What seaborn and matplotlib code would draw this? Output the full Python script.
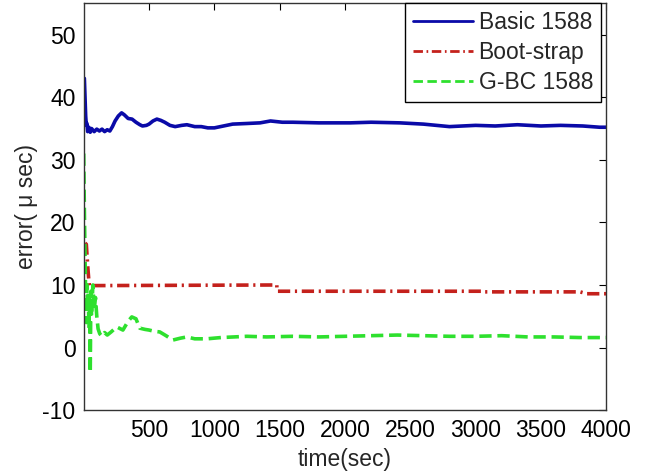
import matplotlib
matplotlib.use("Agg")
import matplotlib.pyplot as plt
import seaborn as sns
import pandas as pd

# ---- data ----
basic_t = [0, 5, 10, 15, 20, 25, 30, 40, 50, 60, 80, 100, 120, 140, 160, 180, 200,
           220, 240, 265, 290, 310, 340, 370, 400, 430, 450, 480, 500, 530, 560,
           590, 620, 660, 700, 750, 790, 850, 900, 950, 1000, 1070, 1140, 1250,
           1350, 1430, 1520, 1600, 1800, 2040, 2200, 2420, 2600, 2800, 3000, 3150,
           3320, 3500, 3650, 3820, 3950, 4000]
basic_v = [43, 43, 40, 37, 35.5, 35.8, 34.5, 35.2, 34.4, 35, 34.5, 34.9, 34.6, 34.9,
           34.5, 34.8, 34.6, 35.3, 36.2, 37, 37.5, 37.2, 36.6, 36.5, 36, 35.6, 35.4,
           35.5, 35.7, 36.2, 36.5, 36.3, 36, 35.5, 35.3, 35.5, 35.6, 35.3, 35.3,
           35.1, 35.1, 35.4, 35.7, 35.8, 35.9, 36.2, 36, 36, 35.9, 35.9, 36.0, 35.9,
           35.7, 35.3, 35.5, 35.4, 35.6, 35.4, 35.5, 35.4, 35.2, 35.2]

boot_t = [10, 20, 30, 40, 45, 60, 1478, 1480, 3060, 3062, 3800, 3850, 4000]
boot_v = [16.7, 16.5, 13.2, 10.5, 9.8, 9.9, 10.0, 9.0, 9.0, 8.9, 8.9, 8.6, 8.6]

gbc_t = [0, 5, 10, 15, 20, 25, 30, 35, 40, 45, 50, 55, 60, 70, 80, 90, 100, 110,
         123, 140, 160, 180, 210, 253, 300, 340, 368, 400, 429, 470, 500, 540, 582,
         630, 682, 740, 789, 850, 943, 1050, 1150, 1249, 1400, 1600, 1800, 2000,
         2200, 2400, 2600, 2800, 3000, 3200, 3400, 3600, 3800, 4000]
gbc_v = [31, 22, 15, 8, 4, 10, 6, 9, 3, 8, -4, 9, 5, 10, 6, 8, 5, 3, 2.2, 1.8, 2.4,
         2.0, 2.5, 3.3, 2.8, 4.2, 4.9, 4.6, 3.1, 2.9, 2.8, 2.6, 2.5, 1.9, 1.2, 1.5,
         1.7, 1.4, 1.4, 1.6, 1.7, 1.8, 1.7, 1.8, 1.7, 1.8, 1.9, 2.0, 1.9, 1.8, 1.8,
         1.9, 1.7, 1.7, 1.6, 1.6]

series_names = ["Basic 1588", "Boot-strap", "G-BC 1588"]
x_ticks = [500, 1000, 1500, 2000, 2500, 3000, 3500, 4000]
y_ticks = [-10, 0, 10, 20, 30, 40, 50]

sns.set_style("white")
plt.rcParams["font.family"] = ["Liberation Sans", "DejaVu Sans"]
plt.rcParams["axes.unicode_minus"] = False

FS = 16.5

fig = plt.figure(figsize=(6.54, 4.72), dpi=100)
ax = fig.add_axes([0.128, 0.131, 0.799, 0.862])

sns.lineplot(x=basic_t, y=basic_v, ax=ax, color="#0a0aa8", linewidth=2.6,
             label=series_names[0], estimator=None, sort=False)
sns.lineplot(x=boot_t, y=boot_v, ax=ax, color="#c4211c", linewidth=2.6,
             linestyle=(0, (3.4, 1.3, 0.6, 1.3)),
             label=series_names[1], estimator=None, sort=False)
sns.lineplot(x=gbc_t, y=gbc_v, ax=ax, color="#2ee02e", linewidth=2.6,
             linestyle=(0, (3.4, 1.6)),
             label=series_names[2], estimator=None, sort=False)

ax.set_xlim(0, 4000)
ax.set_ylim(-10, 55)
ax.set_xticks(x_ticks)
ax.set_yticks(y_ticks)
ax.tick_params(direction="in", length=5, width=0.8, top=True, right=True,
               labelsize=FS, colors="black", pad=6)
for s in ax.spines.values():
    s.set_color("#333333")
    s.set_linewidth(1.0)
ax.set_xlabel("time(sec)", fontsize=FS, labelpad=5)
ax.set_ylabel("error( \u03bc sec)", fontsize=FS, labelpad=3)

leg = ax.legend(loc="upper right", fontsize=FS, frameon=True, fancybox=False,
                edgecolor="black", framealpha=1, borderaxespad=0.0,
                bbox_to_anchor=(0.99, 1.0),
                handlelength=2.6, handletextpad=0.25, labelspacing=0.3,
                borderpad=0.35)
leg.get_frame().set_linewidth(1.0)
for line in leg.get_lines():
    line.set_linewidth(2.0)

fig.savefig("out.png", dpi=100)
